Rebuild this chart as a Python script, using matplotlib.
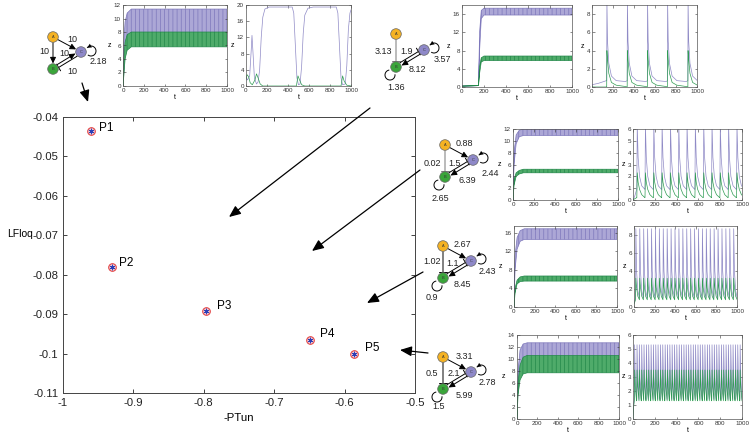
import matplotlib.pyplot as plt
from matplotlib.patches import Circle, Arc, FancyArrowPatch, ArrowStyle
import numpy as np

plt.rcParams['font.family'] = ['Liberation Sans', 'DejaVu Sans']
plt.rcParams['axes.unicode_minus'] = False
plt.rcParams['hatch.linewidth'] = 0.5

# main plot data
ptun = [-0.9607, -0.9304, -0.7973, -0.6496, -0.5866]
lfloq = [-0.0435, -0.0781, -0.0891, -0.0966, -0.1000]
point_names = ['P1', 'P2', 'P3', 'P4', 'P5']
label_offsets = [(8, 3), (7, 4), (11, 5), (10, 6), (11, 6)]  # pixels
x_ticks = [-1, -0.9, -0.8, -0.7, -0.6, -0.5]
x_ticklabels = ['-1', '-0.9', '-0.8', '-0.7', '-0.6', '-0.5']
y_ticks = [-0.11, -0.1, -0.09, -0.08, -0.07, -0.06, -0.05, -0.04]
y_ticklabels = ['-0.11', '-0.1', '-0.09', '-0.08', '-0.07', '-0.06', '-0.05', '-0.04']

# network edge weights (as printed)
net1_labels = ['10', '10', '10', '10', '2.18']
net2_labels = ['3.13', '1.9', '3.57', '8.12', '1.36']
net3_labels = ['0.88', '0.02', '1.5', '2.44', '6.39', '2.65']
net4_labels = ['2.67', '1.02', '1.1', '2.43', '8.45', '0.9']
net5_labels = ['3.31', '0.5', '2.1', '2.78', '5.99', '1.5']

# ---- time series ----
# inset 1 (P1, left): dense oscillation envelopes
ts1_t = [0, 8, 20, 40, 80, 1000]
ts1_purple_lo = [0, 2.0, 4.5, 5.8, 6.2, 6.2]
ts1_purple_hi = [0, 6.5, 9.5, 10.8, 11.4, 11.4]
ts1_green_lo = [0, 1.5, 4.0, 5.3, 5.8, 5.8]
ts1_green_hi = [0, 4.0, 6.5, 7.6, 8.0, 8.0]

# inset 2 (P1, right): switching
ts2_purple_t = [0, 15, 35, 50, 57, 65, 80, 100, 115, 130, 145, 160, 180, 220, 440, 455, 470, 485,
                500, 515, 530, 545, 560, 590, 640, 860, 875, 890, 905, 920, 945, 960, 975, 990, 1000]
ts2_purple = [2.2, 1.5, 2.5, 9, 12.5, 9, 2, 0.5, 1, 4, 12, 17, 19, 19.5, 19.5, 18, 10, 2,
              0.3, 0.5, 5, 13, 17.5, 19.2, 19.5, 19.5, 18, 10, 2, 0.3, 0.5, 5, 14, 18, 18.8]
ts2_green_t = [0, 10, 25, 40, 60, 85, 100, 115, 135, 160, 480, 495, 510, 530, 560, 905, 920, 935, 960, 1000]
ts2_green = [1.5, 2.8, 2.3, 0.8, 0.3, 1.5, 3, 2, 0.5, 0, 0, 2.5, 1.5, 0.3, 0, 0, 2.5, 1.2, 0.2, 0]

# inset 3 (P2, left)
ts3_t = [0, 150, 160, 175, 200, 1000]
ts3_purple_lo = [0.2, 0.3, 8, 15, 15.8, 15.8]
ts3_purple_hi = [0.2, 0.3, 12, 16.8, 17.3, 17.3]
ts3_green_lo = [0.2, 0.3, 3, 5.5, 5.8, 5.8]
ts3_green_hi = [0.2, 0.3, 4.5, 6.4, 6.8, 6.8]

# inset 4 (P2, right): spikes
ts4_start_t = [0, 60, 138]
ts4_start_purple = [0.25, 0.4, 0.7]
ts4_start_green = [0, 0, 0]
ts4_spikes = [140, 335, 527, 718, 913]
ts4_pulse_dt = [0, 2, 8, 20, 45, 90, 180]
ts4_pulse_purple = [0.7, 9.5, 5.0, 2.6, 1.2, 0.7, 0.6]
ts4_pulse_green = [0.0, 4.0, 3.0, 1.5, 0.5, 0.2, 0.05]

# inset 5 (P3, left)
ts5_t = [0, 10, 30, 60, 100, 1000]
ts5_purple_lo = [0, 6, 9.5, 10.7, 10.9, 10.9]
ts5_purple_hi = [0, 8, 11, 11.8, 12, 12]
ts5_green_lo = [0, 2.5, 4.0, 4.4, 4.6, 4.6]
ts5_green_hi = [0, 3.5, 4.6, 5.0, 5.2, 5.2]

# inset 6 (P3, right)
ts6_start_t = [0, 15, 34]
ts6_start_purple = [0, 0.3, 0.9]
ts6_start_green = [0, 0.1, 0.2]
ts6_spikes = [35, 110, 187, 263, 340, 416, 492, 568, 645, 721, 797, 873, 950]
ts6_pulse_dt = [0, 4, 12, 25, 45, 74]
ts6_pulse_purple = [0.9, 6.3, 3.6, 2.0, 1.2, 0.9]
ts6_pulse_green = [0.2, 2.3, 1.5, 0.9, 0.45, 0.2]

# inset 7 (P4, left)
ts7_t = [0, 10, 30, 60, 100, 1000]
ts7_purple_lo = [0, 8, 12.5, 14.2, 14.6, 14.6]
ts7_purple_hi = [0, 11, 15, 16.5, 16.9, 16.9]
ts7_green_lo = [0, 3, 5.0, 5.5, 5.6, 5.6]
ts7_green_hi = [0, 4, 5.8, 6.5, 6.7, 6.7]

# inset 8 (P4, right)
ts8_start_t = [0, 14]
ts8_start_purple = [0.5, 1.0]
ts8_start_green = [0.3, 0.8]
ts8_spikes = [15, 53, 91, 129, 167, 205, 243, 281, 319, 357, 395, 433, 471, 509, 547, 585, 623,
              661, 699, 737, 775, 813, 851, 889, 927, 965]
ts8_pulse_dt = [0, 3, 10, 22, 37]
ts8_pulse_purple = [1.0, 8.7, 4.0, 1.8, 1.0]
ts8_pulse_green = [0.8, 3.2, 2.2, 1.2, 0.8]

# inset 9 (P5, left)
ts9_t = [0, 10, 30, 60, 100, 1000]
ts9_purple_lo = [0, 5, 8.5, 9.5, 9.7, 9.7]
ts9_purple_hi = [0, 8, 11.5, 12.5, 12.7, 12.7]
ts9_green_lo = [0, 4, 6.5, 7.5, 7.7, 7.7]
ts9_green_hi = [0, 6, 9, 10.3, 10.6, 10.6]

# inset 10 (P5, right)
ts10_start_t = [0, 5]
ts10_start_purple = [0, 1.0]
ts10_start_green = [0, 0.8]
ts10_spikes = [12, 34, 55, 77, 98, 120, 141, 163, 184, 206, 227, 249, 270, 292, 313, 335, 356, 378,
               399, 421, 442, 464, 485, 507, 528, 550, 571, 593, 614, 636, 657, 679, 700, 722, 743,
               765, 786, 808, 829, 851, 872, 894, 915, 937, 958, 980]
ts10_pulse_dt = [0, 3, 9, 20]
ts10_pulse_purple = [1.4, 5.3, 3.0, 1.4]
ts10_pulse_green = [1.3, 3.5, 2.3, 1.3]

PURPLE = '#8f8ac6'
GREEN = '#2f9c53'
W, H = 750, 436

fig = plt.figure(figsize=(7.5, 4.36), dpi=100)


def px_axes(x0, y0, x1, y1):
    return fig.add_axes([x0 / W, 1 - y1 / H, (x1 - x0) / W, (y1 - y0) / H])


def train(start_t, start_v, spikes, dt, vals):
    t, v = list(start_t), list(start_v)
    for s in spikes:
        for d, y in zip(dt, vals):
            t.append(s + d)
            v.append(y)
    return t, v


def style_inset(a, top, yticks):
    a.set_xlim(0, 1000)
    a.set_ylim(0, top)
    a.set_xticks([0, 200, 400, 600, 800, 1000])
    a.set_yticks(yticks)
    a.tick_params(direction='in', top=True, right=True, length=1.8, width=0.4,
                  labelsize=4.5, pad=1.5, colors='#333')
    for s in a.spines.values():
        s.set_linewidth(0.5)
        s.set_color('#555')
    a.set_xlabel('t', fontsize=5, labelpad=1)
    a.set_ylabel('z', fontsize=5, rotation=0, labelpad=3, va='center')


def band_inset(box, t, plo, phi, glo, ghi, top, yticks):
    # dense oscillations drawn as striped bands between the read envelopes
    a = px_axes(*box)
    a.fill_between(t, plo, phi, facecolor='#aca7d6', edgecolor='#7d77bb', hatch='||||', lw=0.5)
    a.fill_between(t, glo, ghi, facecolor='#4fab6a', edgecolor='#23884a', hatch='||||', lw=0.5)
    style_inset(a, top, yticks)


def line_inset(box, pt, pv, gt, gv, top, yticks):
    a = px_axes(*box)
    a.plot(pt, pv, color=PURPLE, lw=0.5)
    a.plot(gt, gv, color=GREEN, lw=0.5)
    style_inset(a, top, yticks)


# ---- main scatter ----
ax = px_axes(63, 117, 415, 393)
ax.plot(ptun, lfloq, 'o', ms=5.5, mec='#e23a3a', mfc='#f6c9cf', mew=0.7)
ax.plot(ptun, lfloq, ls='none', marker=(6, 2, 0), ms=4, mec='#2a3fb8', mew=0.6)
for x, y, name, off in zip(ptun, lfloq, point_names, label_offsets):
    ax.annotate(name, (x, y), xytext=off, textcoords='offset pixels', fontsize=8.5,
                ha='left', va='center')
ax.set_xlim(-1, -0.5)
ax.set_ylim(-0.11, -0.04)
ax.set_xticks(x_ticks)
ax.set_xticklabels(x_ticklabels)
ax.set_yticks(y_ticks)
ax.set_yticklabels(y_ticklabels)
ax.tick_params(direction='in', top=True, right=True, labelsize=8.2, length=3, width=0.6, colors='#222')
for s in ax.spines.values():
    s.set_linewidth(0.7)
    s.set_color('#444')
ax.set_xlabel('-PTun', fontsize=8.2, labelpad=4)
ax.set_ylabel('LFloq', fontsize=7.5, rotation=0, ha='center', va='center')
ax.yaxis.set_label_coords(-0.123, 0.576)

# ---- insets ----
band_inset((123, 5, 227, 86), ts1_t, ts1_purple_lo, ts1_purple_hi, ts1_green_lo, ts1_green_hi,
           12, [0, 2, 4, 6, 8, 10, 12])
line_inset((246, 5, 351, 86), ts2_purple_t, ts2_purple, ts2_green_t, ts2_green, 20, [0, 4, 8, 12, 16, 20])
band_inset((462, 5, 572, 87), ts3_t, ts3_purple_lo, ts3_purple_hi, ts3_green_lo, ts3_green_hi,
           18, [0, 4, 8, 12, 16])
p4t, p4v = train(ts4_start_t, ts4_start_purple, ts4_spikes, ts4_pulse_dt, ts4_pulse_purple)
g4t, g4v = train(ts4_start_t, ts4_start_green, ts4_spikes, ts4_pulse_dt, ts4_pulse_green)
line_inset((592, 5, 697, 87), p4t, p4v, g4t, g4v, 9, [0, 2, 4, 6, 8])

band_inset((513, 129, 618, 200), ts5_t, ts5_purple_lo, ts5_purple_hi, ts5_green_lo, ts5_green_hi,
           12, [0, 2, 4, 6, 8, 10, 12])
p6t, p6v = train(ts6_start_t, ts6_start_purple, ts6_spikes, ts6_pulse_dt, ts6_pulse_purple)
g6t, g6v = train(ts6_start_t, ts6_start_green, ts6_spikes, ts6_pulse_dt, ts6_pulse_green)
line_inset((633, 129, 742, 200), p6t, p6v, g6t, g6v, 6, [0, 1, 2, 3, 4, 5, 6])

band_inset((514, 226, 617, 307), ts7_t, ts7_purple_lo, ts7_purple_hi, ts7_green_lo, ts7_green_hi,
           17.5, [0, 4, 8, 12, 16])
p8t, p8v = train(ts8_start_t, ts8_start_purple, ts8_spikes, ts8_pulse_dt, ts8_pulse_purple)
g8t, g8v = train(ts8_start_t, ts8_start_green, ts8_spikes, ts8_pulse_dt, ts8_pulse_green)
line_inset((634, 226, 737, 307), p8t, p8v, g8t, g8v, 9, [0, 2, 4, 6, 8])

band_inset((517, 335, 619, 419), ts9_t, ts9_purple_lo, ts9_purple_hi, ts9_green_lo, ts9_green_hi,
           14, [0, 2, 4, 6, 8, 10, 12, 14])
p10t, p10v = train(ts10_start_t, ts10_start_purple, ts10_spikes, ts10_pulse_dt, ts10_pulse_purple)
g10t, g10v = train(ts10_start_t, ts10_start_green, ts10_spikes, ts10_pulse_dt, ts10_pulse_green)
line_inset((633, 335, 742, 419), p10t, p10v, g10t, g10v, 6, [0, 1, 2, 3, 4, 5, 6])

# ---- overlay in pixel coordinates: networks and arrows ----
ov = fig.add_axes([0, 0, 1, 1])
ov.set_xlim(0, W)
ov.set_ylim(H, 0)
ov.axis('off')

ACT = ArrowStyle('-|>', head_length=0.45, head_width=0.22)
BAR = ArrowStyle('|-|', widthA=0, widthB=0.35)


def edge(p, q, style, color='k', off=0.0, sA=4, sB=4):
    dx, dy = q[0] - p[0], q[1] - p[1]
    n = (dx * dx + dy * dy) ** 0.5
    ox, oy = -dy / n * off, dx / n * off
    ov.add_patch(FancyArrowPatch((p[0] + ox, p[1] + oy), (q[0] + ox, q[1] + oy),
                                 arrowstyle=style, mutation_scale=8, color=color,
                                 lw=0.7, shrinkA=sA, shrinkB=sB, zorder=3))


def loop(n, dx, dy, r, head):
    # self-loop: circle next to the node, open where it meets the node
    cx, cy = n[0] + dx, n[1] + dy
    base = np.degrees(np.arctan2(-dy, -dx))
    t1, t2 = base + 45, base + 315
    ov.add_patch(Arc((cx, cy), 2 * r, 2 * r, theta1=t1, theta2=t2, color='k', lw=0.7, zorder=3))
    if head:
        a0, a1 = np.radians(t1 + 40), np.radians(t1)
        ov.add_patch(FancyArrowPatch((cx + r * np.cos(a0), cy + r * np.sin(a0)),
                                     (cx + r * np.cos(a1), cy + r * np.sin(a1)),
                                     arrowstyle=ACT, mutation_scale=7, color='k', lw=0,
                                     shrinkA=0, shrinkB=0, zorder=3))


def nodes(a, b, c):
    for (x, y), col, letter in [(a, '#f4b223', 'A'), (b, '#3aa53a', 'B'), (c, '#8e88c8', 'C')]:
        ov.add_patch(Circle((x, y), 5.3, fc=col, ec='#666', lw=0.5, zorder=5))
        ov.text(x, y, letter, fontsize=2.8, ha='center', va='center', color='#333', zorder=6)


def texts(a, labels, offs):
    for s, (dx, dy) in zip(labels, offs):
        ov.text(a[0] + dx, a[1] + dy, s, fontsize=6.5, ha='center', va='center', color='#222')


# network 1
A, B, C = (53, 37), (53, 69), (81, 52)
edge(A, B, ACT)
edge(A, C, ACT)
edge(C, B, BAR, off=-1.6)
edge(B, C, ACT, off=-1.6)
loop(C, 10, -1, 5, True)
nodes(A, B, C)
texts(A, net1_labels, [(19, 2), (-9, 14), (11, 17), (19, 34), (45, 25)])

# network 2
A, B, C = (396, 34), (396, 67), (424, 50)
edge(A, B, BAR, color='#777')
edge(C, B, ACT, off=-1.6)
edge(B, C, BAR, off=-1.6)
loop(C, 10, -2, 5, True)
loop(B, -6, 8, 5, False)
nodes(A, B, C)
texts(A, net2_labels, [(-13, 18), (11, 18), (46, 26), (21, 35), (0, 53)])

# networks 3-5
for A, lab, offs, abcol in [
        ((445, 145), net3_labels, [(19, -2), (-13, 18), (10, 18), (45, 28), (22, 35), (-5, 53)], '#777'),
        ((443, 246), net4_labels, [(19, -2), (-11, 15), (10, 17), (44, 25), (19, 38), (-11, 51)], 'k'),
        ((443, 357), net5_labels, [(21, -1), (-11, 16), (11, 16), (44, 25), (21, 38), (-4, 49)], 'k')]:
    B, C = (A[0], A[1] + 32), (A[0] + 28, A[1] + 15)
    edge(A, B, BAR, color=abcol)
    edge(A, C, ACT)
    edge(C, B, ACT, off=-1.6)
    edge(B, C, BAR, off=-1.6)
    loop(C, 10, -2, 5, True)
    loop(B, -6, 8, 5, False)
    nodes(A, B, C)
    texts(A, lab, offs)

# arrows pointing into the main plot
for p, q in [((82, 83), (88, 102)), ((370, 108), (229, 217)), ((420, 170), (312, 251)),
             ((423, 272), (367, 303)), ((428, 353), (400, 350))]:
    ov.add_patch(FancyArrowPatch(p, q, arrowstyle=ArrowStyle('-|>', head_length=0.7, head_width=0.3),
                                 mutation_scale=10, color='k', lw=0.9, shrinkA=0, shrinkB=0))

fig.savefig('out.png', dpi=100)
